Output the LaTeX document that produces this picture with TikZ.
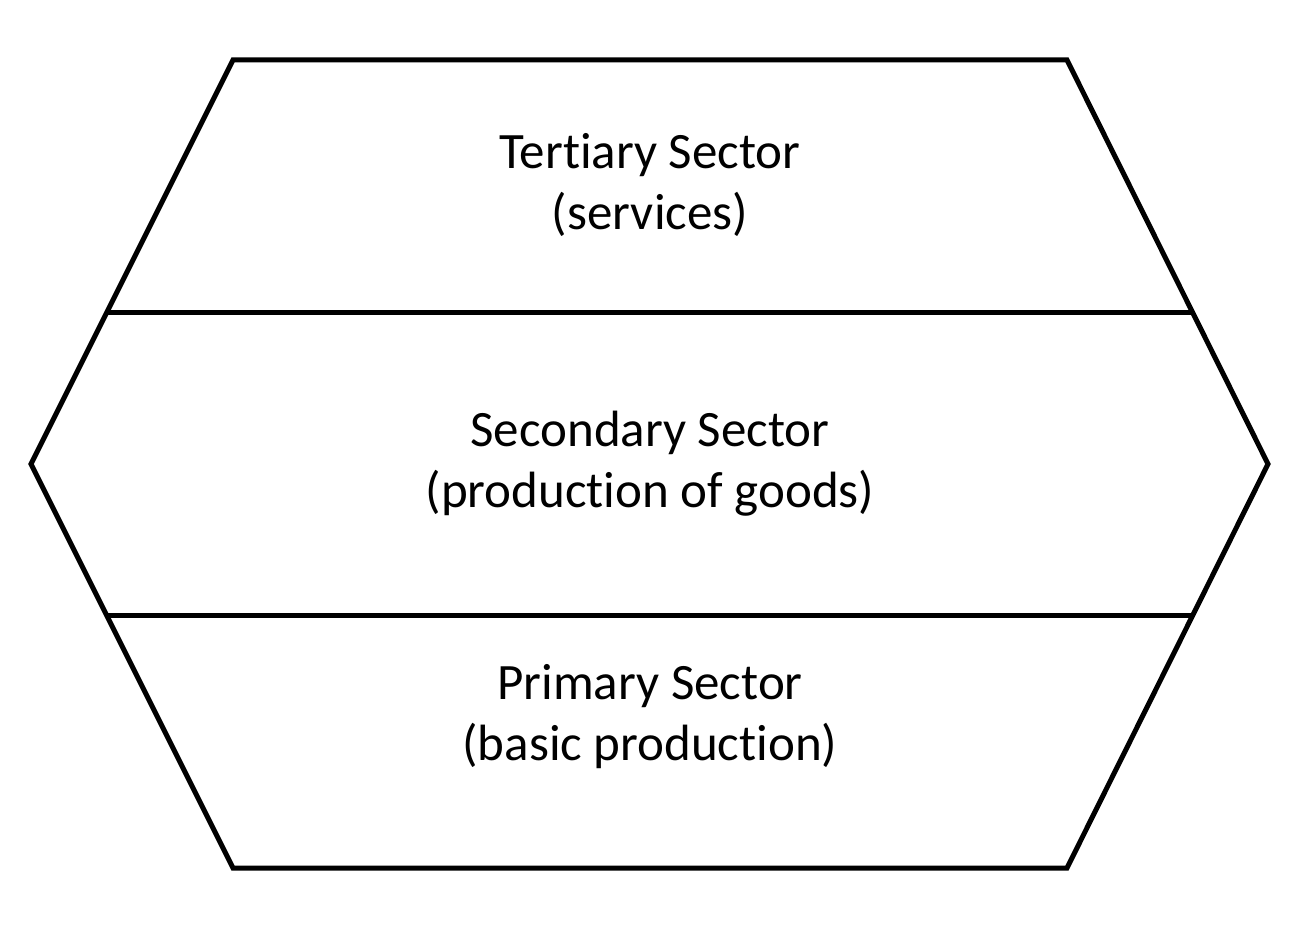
\documentclass[tikz,border=0pt]{standalone}
\usepackage{fontspec}
\setmainfont[Ligatures=CommonOff]{Carlito}
\begin{document}
\begin{tikzpicture}[x=1pt,y=-1pt,
  edge/.style={line width=5pt,line join=miter},
  label/.style={align=center,font=\fontsize{51}{61}\selectfont,inner sep=0pt}]
\useasboundingbox (0,0) rectangle (1306,928);
\coordinate (tl) at (233,60);
\coordinate (tr) at (1067,60);
\coordinate (r) at (1268,464);
\coordinate (br) at (1067,868);
\coordinate (bl) at (233,868);
\coordinate (l) at (31,464);
\coordinate (a1) at (107,312);
\coordinate (a2) at (1193,312);
\coordinate (b1) at (107,615);
\coordinate (b2) at (1193,615);
\draw[edge] (tl) -- (tr) -- (r) -- (br) -- (bl) -- (l) -- cycle;
\draw[edge] (a1) -- (a2);
\draw[edge] (b1) -- (b2);
\node[label] (t) at (650,185) {Tertiary Sector\\(services)};
\node[label] (s) at (650,464) {Secondary Sector\\(production of goods)};
\node[label] (p) at (650,717) {Primary Sector\\(basic production)};
\end{tikzpicture}
\end{document}
